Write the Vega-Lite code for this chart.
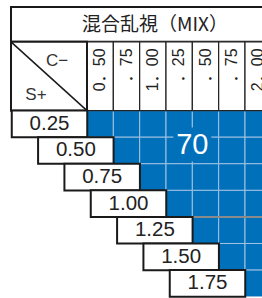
{
  "$schema": "https://vega.github.io/schema/vega-lite/v6.json",
  "width": 262,
  "height": 298,
  "autosize": {"type": "fit", "contains": "padding"},
  "padding": 0,
  "background": "white",
  "config": {"view": {"stroke": null}, "axis": {"disable": true}},
  "datasets": {
    "cells": [
      {"s": 0.25, "c": 0.5, "pct": 70}, {"s": 0.25, "c": 0.75, "pct": 70}, {"s": 0.25, "c": 1.0, "pct": 70}, {"s": 0.25, "c": 1.25, "pct": 70}, {"s": 0.25, "c": 1.5, "pct": 70}, {"s": 0.25, "c": 1.75, "pct": 70}, {"s": 0.25, "c": 2.0, "pct": 70},
      {"s": 0.5, "c": 0.75, "pct": 70}, {"s": 0.5, "c": 1.0, "pct": 70}, {"s": 0.5, "c": 1.25, "pct": 70}, {"s": 0.5, "c": 1.5, "pct": 70}, {"s": 0.5, "c": 1.75, "pct": 70}, {"s": 0.5, "c": 2.0, "pct": 70},
      {"s": 0.75, "c": 1.0, "pct": 70}, {"s": 0.75, "c": 1.25, "pct": 70}, {"s": 0.75, "c": 1.5, "pct": 70}, {"s": 0.75, "c": 1.75, "pct": 70}, {"s": 0.75, "c": 2.0, "pct": 70},
      {"s": 1.0, "c": 1.25, "pct": 70}, {"s": 1.0, "c": 1.5, "pct": 70}, {"s": 1.0, "c": 1.75, "pct": 70}, {"s": 1.0, "c": 2.0, "pct": 70},
      {"s": 1.25, "c": 1.5, "pct": 70}, {"s": 1.25, "c": 1.75, "pct": 70}, {"s": 1.25, "c": 2.0, "pct": 70},
      {"s": 1.5, "c": 1.75, "pct": 70}, {"s": 1.5, "c": 2.0, "pct": 70},
      {"s": 1.75, "c": 2.0, "pct": 70}
    ],
    "cols": [
      {"c": 0.5, "label": "0．50"}, {"c": 0.75, "label": "．75"}, {"c": 1.0, "label": "1．00"}, {"c": 1.25, "label": "．25"},
      {"c": 1.5, "label": "．50"}, {"c": 1.75, "label": "．75"}, {"c": 2.0, "label": "2．00"}
    ],
    "rows": [
      {"s": 0.25, "label": "0.25"}, {"s": 0.5, "label": "0.50"}, {"s": 0.75, "label": "0.75"}, {"s": 1.0, "label": "1.00"},
      {"s": 1.25, "label": "1.25"}, {"s": 1.5, "label": "1.50"}, {"s": 1.75, "label": "1.75"}
    ]
  },
  "layer": [
    {
      "data": {"name": "cells"},
      "mark": {"type": "rect", "width": 26.33, "height": 26.67, "fill": "#0070bb", "stroke": "#a3c2e3", "strokeWidth": 1, "clip": true},
      "encoding": {
        "x": {"field": "c", "type": "quantitative", "scale": {"domain": [-0.451, 2.0364], "nice": false, "zero": false}},
        "y": {"field": "s", "type": "quantitative", "scale": {"domain": [-0.9156, 1.878], "nice": false, "zero": false, "reverse": true}}
      }
    },
    {
      "data": {"values": [{}]},
      "mark": {"type": "rule", "stroke": "#8a8a8a", "strokeWidth": 2, "clip": true},
      "encoding": {
        "x": {"datum": 1.375, "type": "quantitative"},
        "x2": {"datum": 2.4},
        "y": {"datum": 1.125, "type": "quantitative"}
      }
    },
    {
      "data": {"values": [{"pct": 70}]},
      "mark": {"type": "rect", "width": 38, "height": 34, "fill": "#0070bb"},
      "encoding": {
        "x": {"datum": 1.375, "type": "quantitative"},
        "y": {"datum": 0.4438, "type": "quantitative"}
      }
    },
    {
      "data": {"values": [{"pct": 70}]},
      "mark": {"type": "text", "font": "Liberation Sans", "fontSize": 29, "color": "white", "align": "center", "baseline": "middle"},
      "encoding": {
        "x": {"datum": 1.375, "type": "quantitative"},
        "y": {"datum": 0.4438, "type": "quantitative"},
        "text": {"field": "pct"}
      }
    },
    {
      "data": {"values": [{}]},
      "mark": {"type": "rect", "fill": "white", "stroke": "#1a1a1a", "strokeWidth": 2, "clip": true},
      "encoding": {
        "x": {"datum": -0.3466, "type": "quantitative"},
        "x2": {"datum": 2.4},
        "y": {"datum": -0.85, "type": "quantitative"},
        "y2": {"datum": -0.5219}
      }
    },
    {
      "data": {"values": [{"title": "混合乱視（MIX）"}]},
      "mark": {"type": "text", "font": "Noto Sans CJK JP", "fontSize": 19, "color": "#222", "align": "left", "baseline": "middle", "clip": true},
      "encoding": {
        "x": {"datum": 0.3275, "type": "quantitative"},
        "y": {"datum": -0.6812, "type": "quantitative"},
        "text": {"field": "title"}
      }
    },
    {
      "data": {"name": "cols"},
      "mark": {"type": "rect", "width": 26.33, "fill": "white", "stroke": "#222", "strokeWidth": 1.2, "clip": true},
      "encoding": {
        "x": {"field": "c", "type": "quantitative"},
        "y": {"datum": -0.5219, "type": "quantitative"},
        "y2": {"datum": 0.125}
      }
    },
    {
      "data": {"name": "cols"},
      "mark": {"type": "text", "font": "Liberation Sans, Noto Sans CJK JP", "fontSize": 16, "color": "#222", "angle": 270, "align": "right", "baseline": "middle", "clip": true},
      "encoding": {
        "x": {"field": "c", "type": "quantitative"},
        "y": {"datum": -0.46, "type": "quantitative"},
        "text": {"field": "label"}
      }
    },
    {
      "data": {"values": [{}]},
      "mark": {"type": "rect", "fill": "white", "stroke": "#1a1a1a", "strokeWidth": 2},
      "encoding": {
        "x": {"datum": -0.3466, "type": "quantitative"},
        "x2": {"datum": 0.375},
        "y": {"datum": -0.5219, "type": "quantitative"},
        "y2": {"datum": 0.125}
      }
    },
    {
      "data": {"values": [{}]},
      "mark": {"type": "rule", "stroke": "#1a1a1a", "strokeWidth": 1.5},
      "encoding": {
        "x": {"datum": -0.3466, "type": "quantitative"},
        "x2": {"datum": 0.375},
        "y": {"datum": -0.5219, "type": "quantitative"},
        "y2": {"datum": 0.125}
      }
    },
    {
      "data": {"values": [{"t": "C−", "cx": 0.0902, "sy": -0.3437}, {"t": "S+", "cx": -0.1092, "sy": -0.025}]},
      "mark": {"type": "text", "font": "Liberation Sans", "fontSize": 17, "color": "#333", "align": "center", "baseline": "middle"},
      "encoding": {
        "x": {"field": "cx", "type": "quantitative"},
        "y": {"field": "sy", "type": "quantitative"},
        "text": {"field": "t"}
      }
    },
    {
      "data": {"name": "rows"},
      "mark": {"type": "rect", "width": 75.5, "height": 26.67, "xOffset": -24.33, "fill": "white", "stroke": "#1a1a1a", "strokeWidth": 2},
      "encoding": {
        "x": {"field": "s", "type": "quantitative"},
        "y": {"field": "s", "type": "quantitative"}
      }
    },
    {
      "data": {"name": "rows"},
      "mark": {"type": "text", "font": "Liberation Sans", "fontSize": 20.5, "color": "#222", "align": "center", "baseline": "middle", "dx": -24.33},
      "encoding": {
        "x": {"field": "s", "type": "quantitative"},
        "y": {"field": "s", "type": "quantitative"},
        "text": {"field": "label"}
      }
    }
  ]
}
